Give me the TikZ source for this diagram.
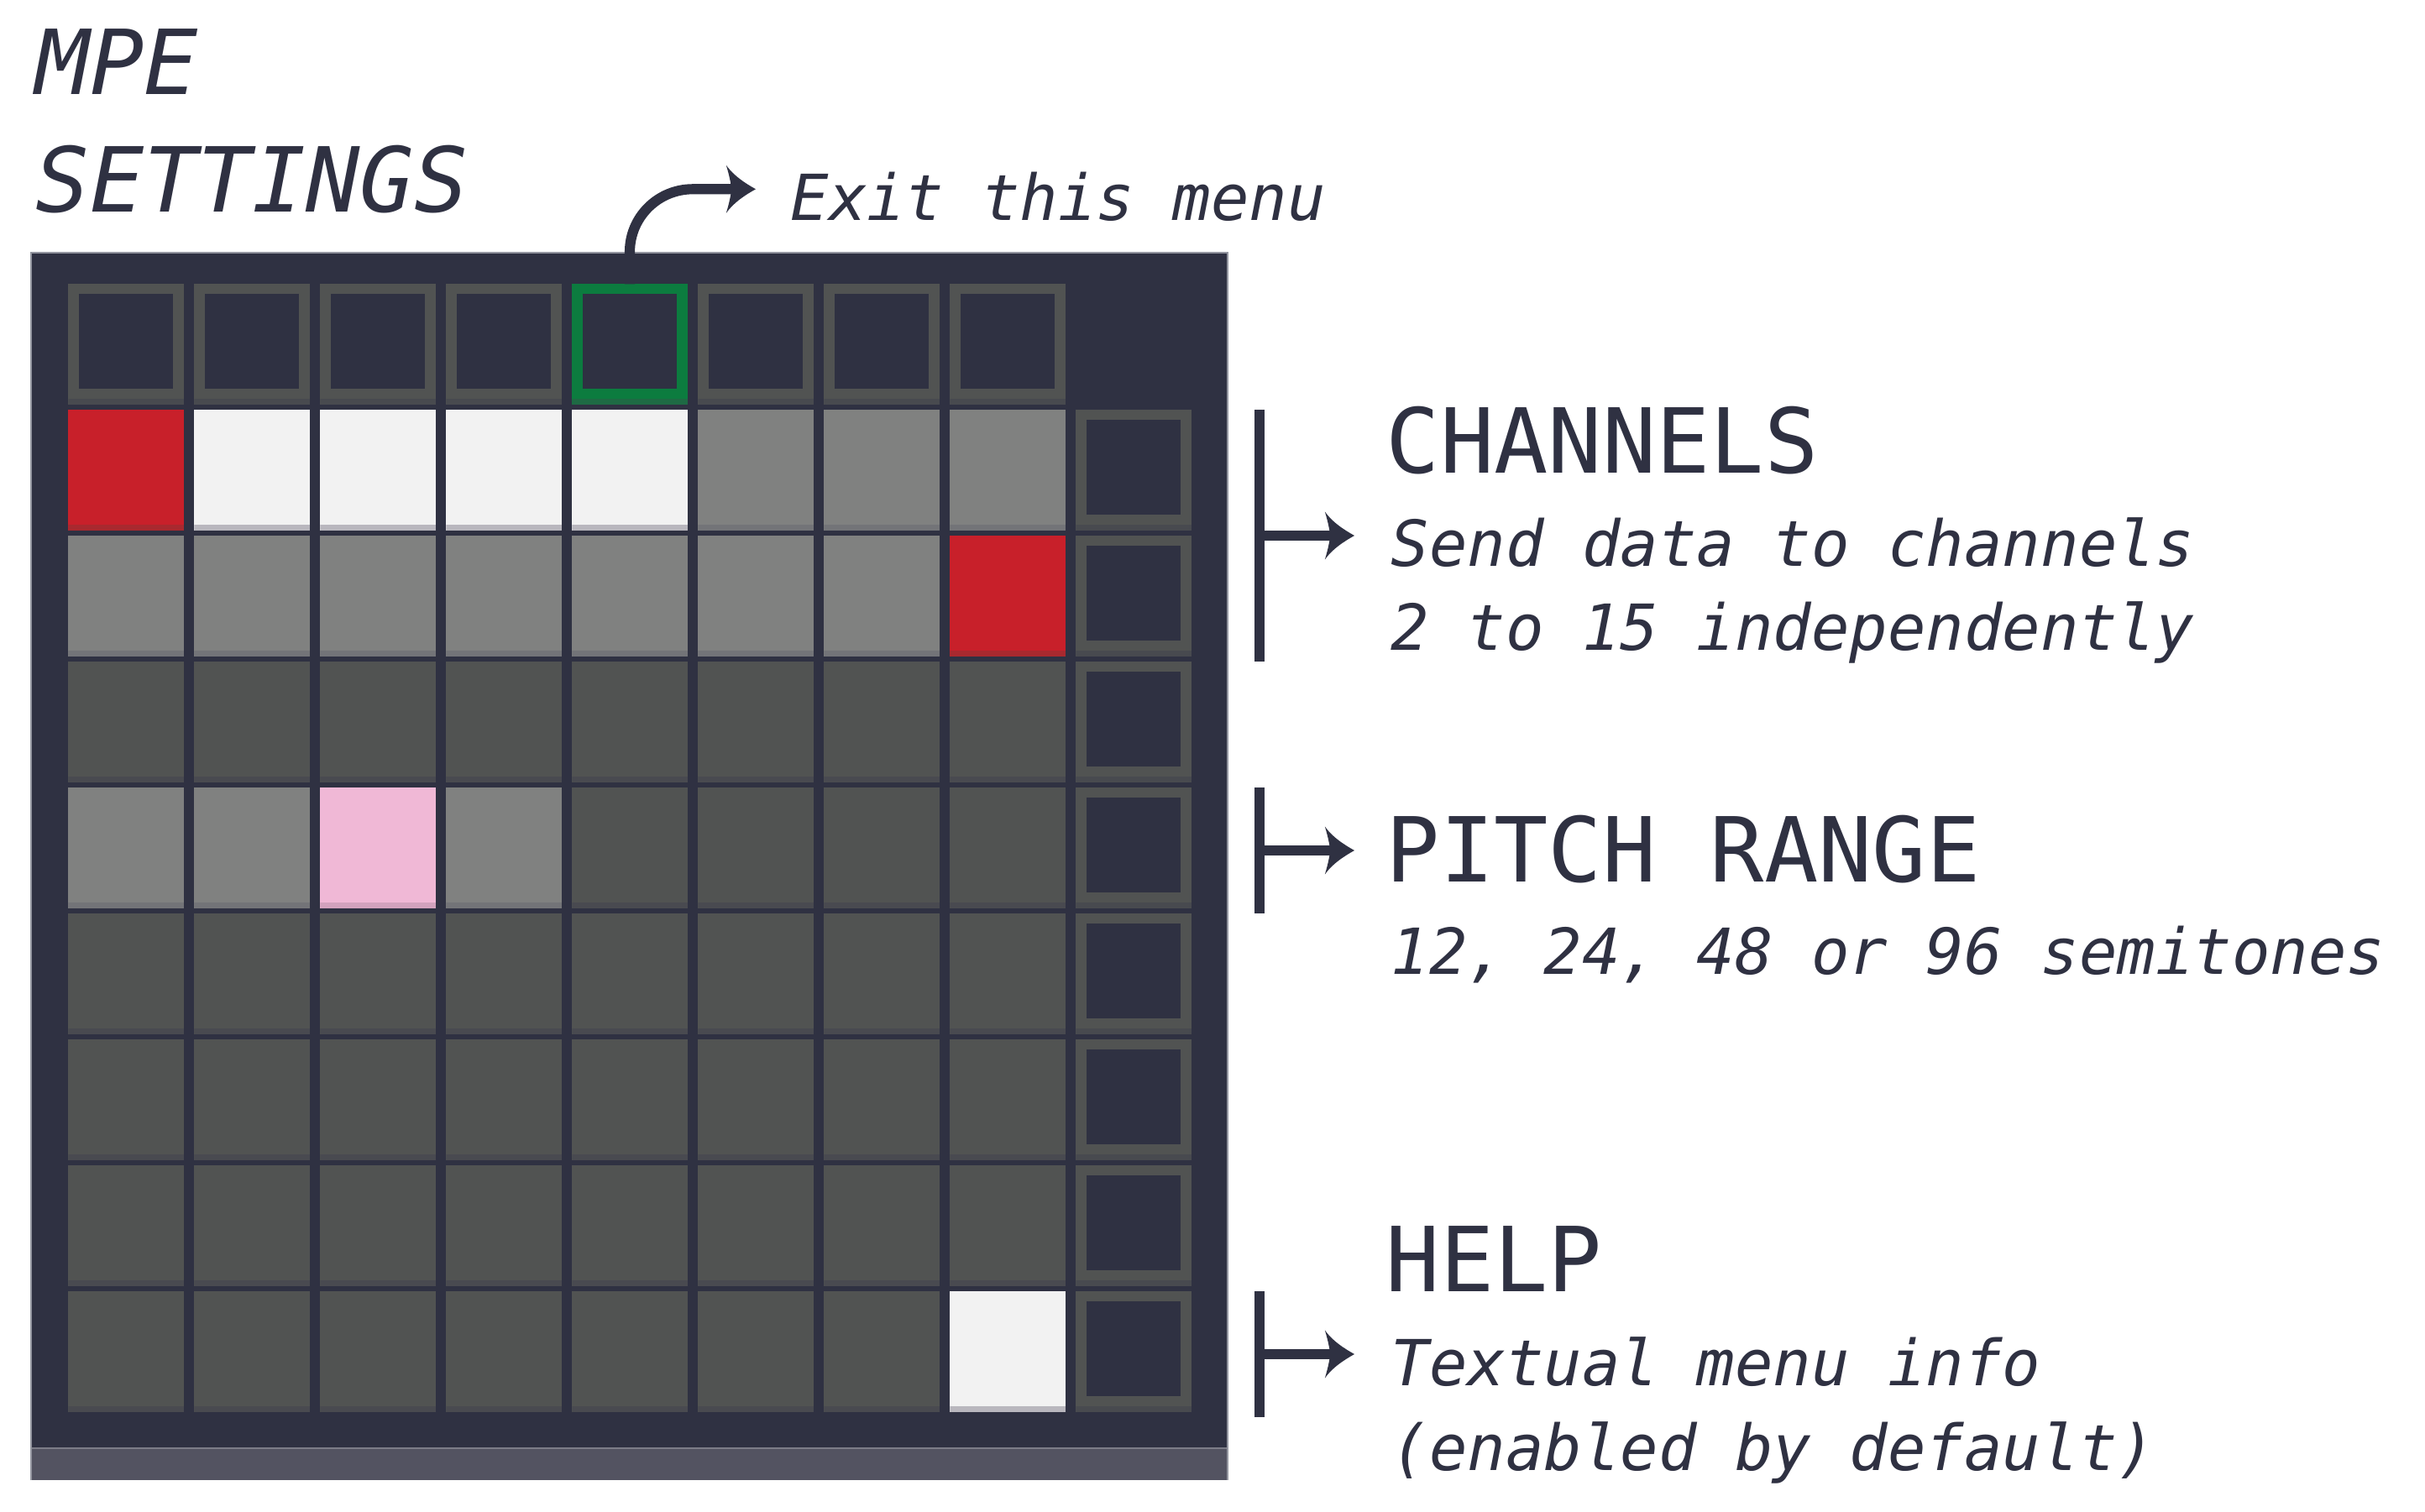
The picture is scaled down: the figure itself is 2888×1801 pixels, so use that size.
\documentclass[tikz,border=0pt]{standalone}
\usepackage{fontspec}
\setmainfont{DejaVu Sans}
\newfontfamily\monofam{DejaVu Sans Mono}
\usetikzlibrary{arrows.meta}
\definecolor{navy}{HTML}{2F3142}
\definecolor{dkC}{HTML}{515352}\definecolor{dkS}{HTML}{494A50}
\definecolor{mdC}{HTML}{808180}\definecolor{mdS}{HTML}{737478}
\definecolor{whC}{HTML}{F2F2F2}\definecolor{whS}{HTML}{B9B7BE}
\definecolor{rdC}{HTML}{C8202A}\definecolor{rdS}{HTML}{A8292F}
\definecolor{pkC}{HTML}{F0B8D6}\definecolor{pkS}{HTML}{D2A2BD}
\definecolor{gnC}{HTML}{0C7C3F}\definecolor{gnS}{HTML}{1E6A44}
\definecolor{btC}{HTML}{515352}\definecolor{btS}{HTML}{484A4F}
\definecolor{barC}{HTML}{535361}\definecolor{barL}{HTML}{7C7C88}
\definecolor{edgeC}{HTML}{9496A0}

\pgfdeclarearrow{
  name = Swoop,
  parameters = {\the\pgfarrowlength,\the\pgfarrowwidth},
  setup code = {
    \pgfarrowssettipend{0pt}
    \pgfarrowssetbackend{-\pgfarrowlength}
    \pgfarrowssetlineend{-.6\pgfarrowlength}
    \pgfarrowsupperhullpoint{0pt}{0pt}
    \pgfarrowsupperhullpoint{-\pgfarrowlength}{.5\pgfarrowwidth}
    \pgfarrowssavethe\pgfarrowlength
    \pgfarrowssavethe\pgfarrowwidth
  },
  drawing code = {
    \pgfpathmoveto{\pgfpointorigin}
    \pgfpathcurveto{\pgfpoint{-.35\pgfarrowlength}{.12\pgfarrowwidth}}{\pgfpoint{-.75\pgfarrowlength}{.28\pgfarrowwidth}}{\pgfpoint{-\pgfarrowlength}{.5\pgfarrowwidth}}
    \pgfpathcurveto{\pgfpoint{-.9\pgfarrowlength}{.3\pgfarrowwidth}}{\pgfpoint{-.84\pgfarrowlength}{.12\pgfarrowwidth}}{\pgfpoint{-.82\pgfarrowlength}{0pt}}
    \pgfpathcurveto{\pgfpoint{-.84\pgfarrowlength}{-.12\pgfarrowwidth}}{\pgfpoint{-.9\pgfarrowlength}{-.3\pgfarrowwidth}}{\pgfpoint{-\pgfarrowlength}{-.5\pgfarrowwidth}}
    \pgfpathcurveto{\pgfpoint{-.75\pgfarrowlength}{-.28\pgfarrowwidth}}{\pgfpoint{-.35\pgfarrowlength}{-.12\pgfarrowwidth}}{\pgfpointorigin}
    \pgfpathclose
    \pgfusepathqfill
  },
  defaults = {length=10pt, width=16.2pt}
}

\tikzset{
  cellbase/.style={rectangle, inner sep=0pt, outer sep=0pt, anchor=north west,
    minimum width=1.374cm, minimum height=1.434cm},
  padcell/.style 2 args={cellbase, fill=#1,
    path picture={\fill[#2] (path picture bounding box.south west) rectangle ([yshift=0.066cm]path picture bounding box.south east);}},
  cD/.style={padcell={dkC}{dkS}},
  cM/.style={padcell={mdC}{mdS}},
  cW/.style={padcell={whC}{whS}},
  cR/.style={padcell={rdC}{rdS}},
  cP/.style={padcell={pkC}{pkS}},
  btnbase/.style 2 args={cellbase, fill=#1,
    path picture={\fill[#2] (path picture bounding box.south west) rectangle ([yshift=0.066cm]path picture bounding box.south east);
      \fill[navy] ([shift={(0.127cm,0.19cm)}]path picture bounding box.south west) rectangle ([shift={(-0.127cm,-0.12cm)}]path picture bounding box.north east);}},
  btn/.style={btnbase={btC}{btS}},
  gbtn/.style={btnbase={gnC}{gnS}},
  headtxt/.style={anchor=base west, inner sep=0pt, text=navy, font=\monofam\fontsize{30.4}{36}\selectfont},
  titletxt/.style={anchor=base west, inner sep=0pt, text=navy, font=\monofam\itshape\fontsize{30.4}{36}\selectfont},
  bodytxt/.style={anchor=base west, inner sep=0pt, text=navy, font=\monofam\itshape\fontsize{21.5}{25}\selectfont},
  barline/.style={draw=navy, line width=3.55pt},
  conn/.style={draw=navy, line width=3.45pt, -{Swoop[length=10pt,width=16.2pt]}},
}

\begin{document}
\begin{tikzpicture}[x=0.01cm, y=-0.01cm]
\useasboundingbox (0,0) rectangle (2888,1801);
\fill[white] (0,0) rectangle (2888,1801);

% device body
\fill[navy] (37.3,300.7) rectangle (1462.3,1725);
\fill[barC] (37.3,1725) rectangle (1462.3,1763);
\draw[barL, line width=0.6pt] (37.3,1725) -- (1462.3,1725);
\draw[edgeC, line width=0.5pt] (37.3,1763) -- (37.3,300.7) -- (1462.3,300.7) -- (1462.3,1763);

% top row of buttons
\foreach \st [count=\i from 0] in {btn,btn,btn,btn,gbtn,btn,btn,btn}
  \node[\st] (c0-\i) at (81.3+150*\i, 338.3) {};

% right column of buttons
\foreach \j in {1,...,8}
  \node[btn] (c\j-8) at (1281.3, 338.3+150*\j) {};

% pad grid
\foreach \row [count=\j from 1] in {
  {cR,cW,cW,cW,cW,cM,cM,cM},
  {cM,cM,cM,cM,cM,cM,cM,cR},
  {cD,cD,cD,cD,cD,cD,cD,cD},
  {cM,cM,cP,cM,cD,cD,cD,cD},
  {cD,cD,cD,cD,cD,cD,cD,cD},
  {cD,cD,cD,cD,cD,cD,cD,cD},
  {cD,cD,cD,cD,cD,cD,cD,cD},
  {cD,cD,cD,cD,cD,cD,cD,cW}}
{
  \foreach \st [count=\i from 0] in \row
    \node[\st] (c\j-\i) at (81.3+150*\i, 338.3+150*\j) {};
}

% texts
\node[titletxt] (mpe) at (42,113) {MPE};
\node[titletxt] (settings) at (42,253) {SETTINGS};
\node[bodytxt] (exit) at (941,263) {Exit this menu};

\node[headtxt] (chan) at (1650,564) {CHANNELS};
\node[bodytxt] (chan1) at (1656,675) {Send data to channels};
\node[bodytxt] (chan2) at (1656,775) {2 to 15 independently};

\node[headtxt] (pitch) at (1650,1050) {PITCH RANGE};
\node[bodytxt] (pitch1) at (1656,1160) {12, 24, 48 or 96 semitones};

\node[headtxt] (help) at (1650,1538) {HELP};
\node[bodytxt] (help1) at (1656,1650) {Textual menu info};
\node[bodytxt] (help2) at (1656,1751) {(enabled by default)};

% exit arrow
\coordinate (exittip) at (900,225.3);
\draw[conn] (c0-4.north) -- (750,300) .. controls (750,258.6) and (783.6,225.3) .. (825,225.3) -- (exittip);

% brackets
\coordinate (b1t) at (1500,488);  \coordinate (b1b) at (1500,788);
\coordinate (b1m) at (1500,638);  \coordinate (b1e) at (1613,638);
\coordinate (b2t) at (1500,938);  \coordinate (b2b) at (1500,1088);
\coordinate (b2m) at (1500,1013); \coordinate (b2e) at (1613,1013);
\coordinate (b3t) at (1500,1538); \coordinate (b3b) at (1500,1688);
\coordinate (b3m) at (1500,1613); \coordinate (b3e) at (1613,1613);
\draw[barline] (b1t) -- (b1b);
\draw[barline] (b2t) -- (b2b);
\draw[barline] (b3t) -- (b3b);
\draw[conn] (b1m) -- (b1e);
\draw[conn] (b2m) -- (b2e);
\draw[conn] (b3m) -- (b3e);
\end{tikzpicture}
\end{document}
